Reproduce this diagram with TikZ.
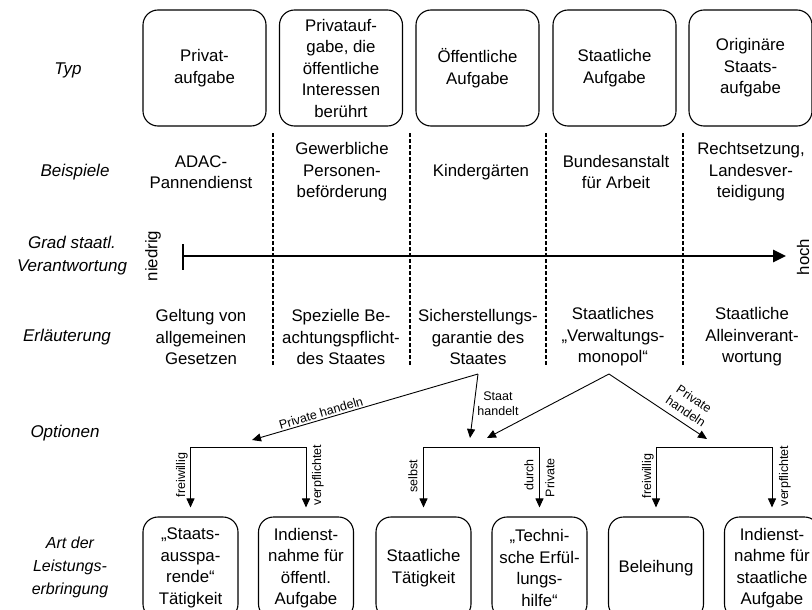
\documentclass[tikz,border=0pt]{standalone}
\usepackage{fontspec}
\setmainfont{Liberation Sans}
\usetikzlibrary{arrows.meta}
\begin{document}
\begin{tikzpicture}[x=1pt,y=-1pt,
  txt/.style={font=\fontsize{16.8}{21.5}\selectfont, align=center, inner sep=0pt},
  rowlab/.style={font=\fontsize{17}{23}\selectfont\itshape, align=center, inner sep=0pt},
  typbox/.style={draw, line width=1.1pt, rounded corners=15pt, minimum width=123pt, minimum height=116pt, txt},
  artbox/.style={draw, line width=1.1pt, rounded corners=15pt, minimum width=95pt, minimum height=102pt, txt},
  small/.style={font=\fontsize{12.5}{15}\selectfont, align=center, inner sep=0pt},
  conn/.style={line width=0.9pt, -{Triangle[length=9pt,width=8pt]}},
  sepline/.style={line width=1.2pt, dash pattern=on 4pt off 2pt},
  axisline/.style={line width=2.6pt, -{Triangle[length=13pt,width=12pt]}}
]
\useasboundingbox (0,0) rectangle (812,610);
\clip (0,0) rectangle (812,610);

% row headings
\node[rowlab] (hTyp) at (68,70) {Typ};
\node[rowlab] (hBsp) at (75,172) {Beispiele};
\node[rowlab] (hGrad) at (72,256) {Grad staatl.\\Verantwortung};
\node[rowlab] (hErl) at (67,337) {Erläuterung};
\node[rowlab] (hOpt) at (65,433) {Optionen};
\node[rowlab, font=\fontsize{16}{23}\selectfont\itshape] (hArt) at (70,567) {Art der\\Leistungs-\\erbringung};

% types of tasks
\node[typbox] (ty1) at (204.5,68) {Privat-\\aufgabe};
\node[typbox] (ty2) at (341,68) {Privatauf-\\gabe, die\\öffentliche\\Interessen\\berührt};
\node[typbox] (ty3) at (477.5,68) {Öffentliche\\Aufgabe};
\node[typbox] (ty4) at (614.5,68) {Staatliche\\Aufgabe};
\node[typbox] (ty5) at (750.5,68) {Originäre\\Staats-\\aufgabe};

% column separators
\foreach \sx in {273,410,546,683}
  \draw[sepline] (\sx,133) -- (\sx,366);

% examples
\node[txt] (bs1) at (201,172) {ADAC-\\Pannendienst};
\node[txt] (bs2) at (342,172) {Gewerbliche\\Personen-\\beförderung};
\node[txt] (bs3) at (481,172) {Kindergärten};
\node[txt] (bs4) at (616,172) {Bundesanstalt\\für Arbeit};
\node[txt] (bs5) at (751,172) {Rechtsetzung,\\Landesver-\\teidigung};

% axis of state responsibility
\coordinate (ax0) at (184,256);
\coordinate (ax1) at (786,256);
\draw[line width=1.3pt] (183,244) -- (183,270);
\draw[axisline] (ax0) -- (ax1);
\node[txt, rotate=90] (lo) at (153,256) {niedrig};
\node[txt, rotate=90] (hi) at (803,257) {hoch};

% explanations
\node[txt] (er1) at (201,337) {Geltung von\\allgemeinen\\Gesetzen};
\node[txt] (er2) at (341,337) {Spezielle Be-\\achtungspflicht-\\des Staates};
\node[txt] (er3) at (478,337) {Sicherstellungs-\\garantie des\\Staates};
\node[txt] (er4) at (613,337) {Staatliches\\„Verwaltungs-\\monopol“};
\node[txt] (er5) at (752,337) {Staatliche\\Alleinverant-\\wortung};

% kinds of service provision
\node[artbox] (lb1) at (190.5,568) {„Staats-\\ausspa-\\rende“\\Tätigkeit};
\node[artbox] (lb2) at (306,568) {Indienst-\\nahme für\\öffentl.\\Aufgabe};
\node[artbox] (lb3) at (423.5,568) {Staatliche\\Tätigkeit};
\node[artbox] (lb4) at (539.5,568) {„Techni-\\sche Erfül-\\lungs-\\hilfe“};
\node[artbox] (lb5) at (656,568) {Beleihung};
\node[artbox] (lb6) at (772,568) {Indienst-\\nahme für\\staatliche\\Aufgabe};

% options
\coordinate (s3) at (478,374);
\coordinate (s4) at (609,374);
\coordinate (t1) at (252,440);
\coordinate (t2) at (470,438);
\coordinate (t3) at (487,438);
\coordinate (t4) at (707,439);
\draw[conn] (s3) -- (t1);
\draw[conn] (s3) -- (t2);
\draw[conn] (s4) -- (t3);
\draw[conn] (s4) -- (t4);
\node[small, rotate=16.3] (lPh) at (321,413) {Private handeln};
\node[small] (lSh) at (498,404) {Staat\\handelt};
\node[small, rotate=-33.6] (lPh2) at (690,405) {Private\\handeln};

% branching brackets
\coordinate (k1) at (249,447);
\coordinate (k2) at (481,447);
\coordinate (k3) at (715,447);
\draw[conn, shorten >=9pt] (k1) -| (lb1.north);
\draw[conn, shorten >=9pt] (k1) -| (lb2.north);
\draw[conn, shorten >=9pt] (k2) -| (lb3.north);
\draw[conn, shorten >=9pt] (k2) -| (lb4.north);
\draw[conn, shorten >=9pt] (k3) -| (lb5.north);
\draw[conn, shorten >=9pt] (k3) -| (lb6.north);

\node[small, rotate=90] (f1) at (182,475) {freiwillig};
\node[small, rotate=90] (v1) at (318,475) {verpflichtet};
\node[small, rotate=90] (sb) at (413,476) {selbst};
\node[small, rotate=90, anchor=east] (dp1) at (529,459) {durch};
\node[small, rotate=90, anchor=east] (dp2) at (550,458) {Private};
\node[small, rotate=90] (f2) at (648,476) {freiwillig};
\node[small, rotate=90] (v2) at (785,476) {verpflichtet};
\end{tikzpicture}
\end{document}
